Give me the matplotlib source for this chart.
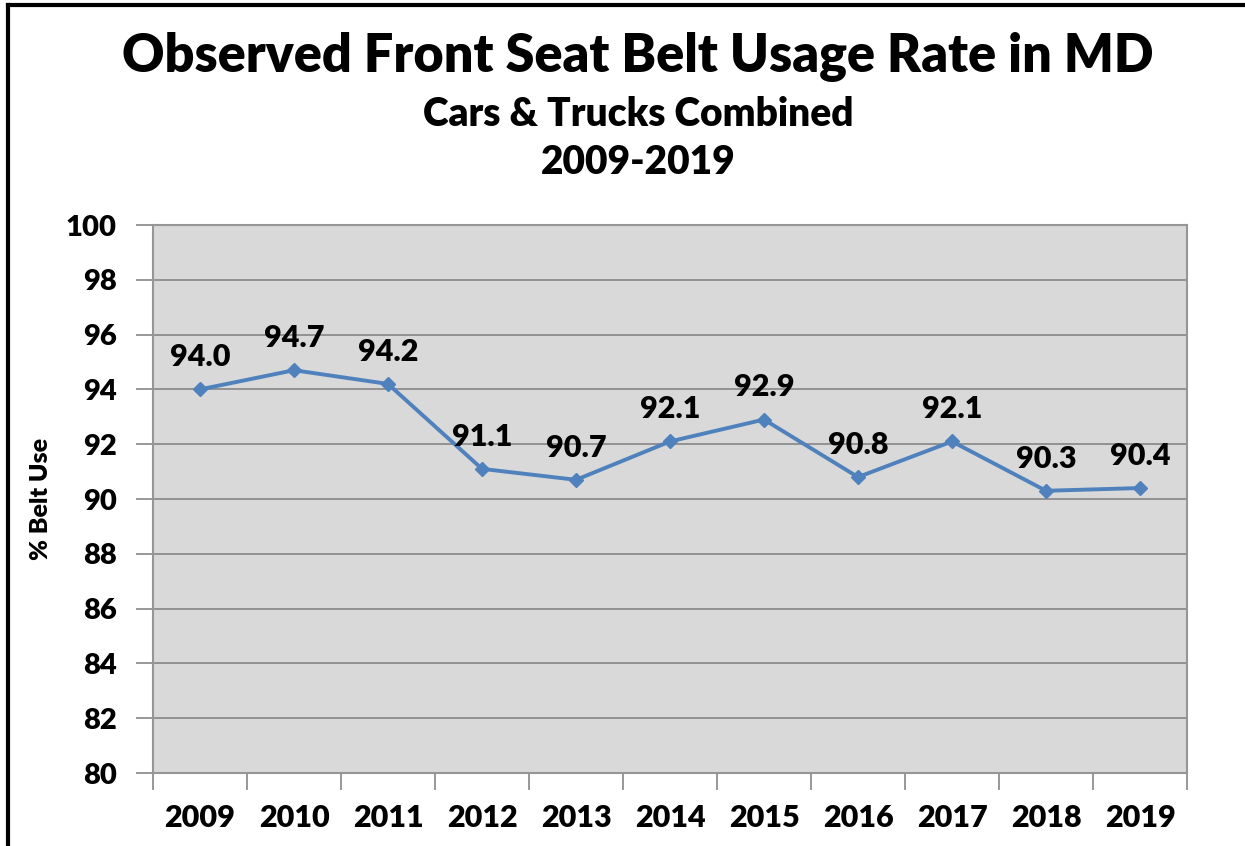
import matplotlib
matplotlib.use("Agg")
import matplotlib.pyplot as plt

years = ["2009", "2010", "2011", "2012", "2013", "2014", "2015", "2016", "2017", "2018", "2019"]
belt_use = [94.0, 94.7, 94.2, 91.1, 90.7, 92.1, 92.9, 90.8, 92.1, 90.3, 90.4]
y_ticks = list(range(80, 101, 2))

plt.rcParams['font.family'] = ['Lato', 'DejaVu Sans']
W, H = 1245, 846
fig = plt.figure(figsize=(W / 100, H / 100), dpi=100)
fig.patch.set_facecolor('white')
WT = 'heavy'

# outer border (left and top visible)
fig.add_artist(plt.Line2D([8 / W, 8 / W], [0, 1 - 5 / H], transform=fig.transFigure, color='black', lw=3))
fig.add_artist(plt.Line2D([8 / W, 1], [1 - 5 / H, 1 - 5 / H], transform=fig.transFigure, color='black', lw=3))

left, right, top, bottom = 153, 1187, 225, 773
ax = fig.add_axes([left / W, 1 - bottom / H, (right - left) / W, (bottom - top) / H])
ax.set_facecolor('#D9D9D9')

x = list(range(len(years)))
ax.plot(x, belt_use, color='#4F81BD', lw=2.8, marker='D', markersize=7, zorder=3)
for xi, v in zip(x, belt_use):
    ax.annotate(f"{v:.1f}", (xi, v), xytext=(0, 13), textcoords='offset points',
                ha='center', va='bottom', fontsize=22, fontweight=WT, color='black')

ax.set_xlim(-0.5, len(years) - 0.5)
ax.set_ylim(80, 100)
ax.set_yticks(y_ticks)
ax.set_yticklabels([str(t) for t in y_ticks], fontsize=21, fontweight=WT)
ax.set_xticks(x)
ax.set_xticklabels(years, fontsize=22, fontweight=WT)
ax.set_xticks([i - 0.5 for i in range(len(years) + 1)], minor=True)
ax.tick_params(axis='x', which='major', length=0, pad=22)
ax.tick_params(axis='x', which='minor', length=12, color='#868686', width=1.2)
ax.tick_params(axis='y', length=12, color='#868686', width=1.2, pad=14)
ax.grid(axis='y', color='#868686', lw=1.2)
ax.set_axisbelow(True)
for s in ax.spines.values():
    s.set_color('#969696')
    s.set_linewidth(1.5)
ax.set_ylabel('% Belt Use', fontsize=18, fontweight=WT, labelpad=10)

fig.text(638 / W, 1 - 57 / H, 'Observed Front Seat Belt Usage Rate in MD', ha='center', va='center',
         fontsize=37.5, fontweight=WT)
fig.text(638 / W, 1 - 115 / H, 'Cars & Trucks Combined', ha='center', va='center',
         fontsize=28, fontweight=WT)
fig.text(638 / W, 1 - 163 / H, '2009-2019', ha='center', va='center',
         fontsize=28, fontweight=WT)

fig.savefig('out.png', dpi=100)
